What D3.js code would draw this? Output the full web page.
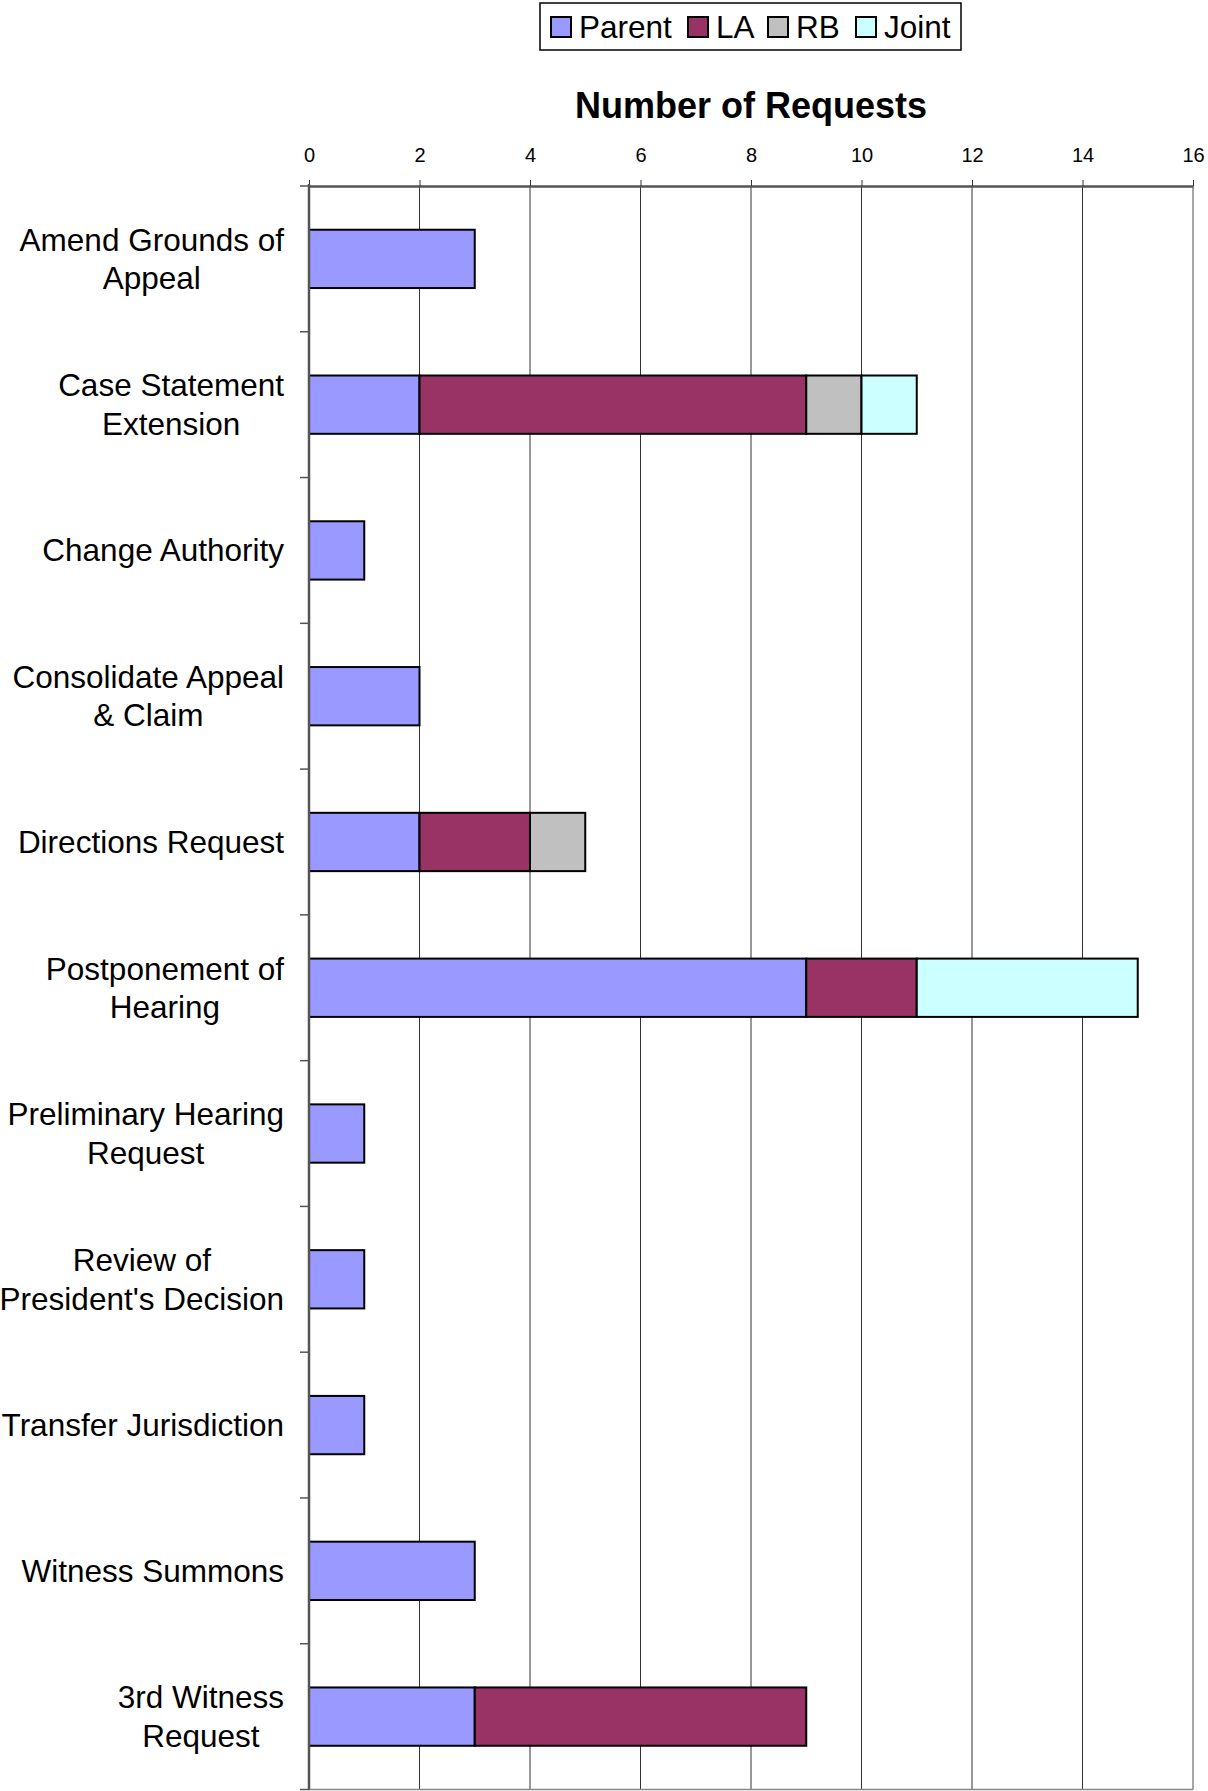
<!DOCTYPE html>
<html>
<head>
<meta charset="utf-8">
<script src="https://cdn.jsdelivr.net/npm/d3@7"></script>
<style>
  body { margin: 0; background: #fff; }
  svg { display: block; font-family: "Liberation Sans", Arial, sans-serif; }
</style>
</head>
<body>
<div id="chart"></div>
<script>
const categories = [
  ["Amend Grounds of", "Appeal"],
  ["Case Statement", "Extension"],
  ["Change Authority"],
  ["Consolidate Appeal", "& Claim"],
  ["Directions Request"],
  ["Postponement of", "Hearing"],
  ["Preliminary Hearing", "Request"],
  ["Review of", "President's Decision"],
  ["Transfer Jurisdiction"],
  ["Witness Summons"],
  ["3rd Witness", "Request"]
];
const seriesNames = ["Parent", "LA", "RB", "Joint"];
const parent = [3, 2, 1, 2, 2, 9, 1, 1, 1, 3, 3];
const la     = [0, 7, 0, 0, 2, 2, 0, 0, 0, 0, 6];
const rb     = [0, 1, 0, 0, 1, 0, 0, 0, 0, 0, 0];
const joint  = [0, 1, 0, 0, 0, 4, 0, 0, 0, 0, 0];
const colors = ["#9999FF", "#993366", "#C0C0C0", "#CCFFFF"];
const xTicks = [0, 2, 4, 6, 8, 10, 12, 14, 16];

const width = 1208, height = 1791;
const margin = {top: 186, right: 15, bottom: 1.5, left: 309};
const plotW = width - margin.left - margin.right;
const plotH = height - margin.top - margin.bottom;

const svg = d3.select("#chart").append("svg")
  .attr("width", width)
  .attr("height", height);

const rows = categories.map((c, i) => ({
  key: i, Parent: parent[i], LA: la[i], RB: rb[i], Joint: joint[i]
}));

const x = d3.scaleLinear().domain([0, 16]).range([0, plotW]);
const y = d3.scaleBand().domain(d3.range(categories.length)).range([0, plotH]).paddingInner(0.6).paddingOuter(0.3);
const color = d3.scaleOrdinal().domain(seriesNames).range(colors);

const g = svg.append("g").attr("transform", `translate(${margin.left},${margin.top})`);

// vertical gridlines
g.selectAll(".grid").data(xTicks.slice(1)).join("line")
  .attr("x1", d => x(d)).attr("x2", d => x(d))
  .attr("y1", 0).attr("y2", plotH)
  .attr("stroke", d => d === 16 ? "#888" : "#333").attr("stroke-width", d => d === 16 ? 1.5 : 1);

// bottom edge of plot area
g.append("line").attr("x1", 0).attr("x2", plotW).attr("y1", plotH).attr("y2", plotH)
  .attr("stroke", "#888").attr("stroke-width", 1.5);

// top axis
g.append("g")
  .call(d3.axisTop(x).tickValues(xTicks).tickSize(6).tickSizeOuter(0).tickPadding(18))
  .call(a => a.select(".domain").attr("stroke", "#555").attr("stroke-width", 2.5))
  .call(a => a.selectAll(".tick line").attr("stroke", "#333"))
  .call(a => a.selectAll(".tick text").attr("font-size", 20).attr("fill", "#000")
    .attr("font-family", "Liberation Sans, Arial, sans-serif"));

// stacked bars
const stacked = d3.stack().keys(seriesNames)(rows);
g.selectAll(".series").data(stacked).join("g")
  .attr("fill", d => color(d.key))
  .selectAll("rect").data(d => d.filter(p => p[1] > p[0])).join("rect")
    .attr("x", d => x(d[0]))
    .attr("width", d => x(d[1]) - x(d[0]))
    .attr("y", d => y(d.data.key))
    .attr("height", y.bandwidth())
    .attr("stroke", "#000").attr("stroke-width", 2);

// left axis with ticks at band boundaries
const step = y.step();
g.append("line").attr("x1", 0).attr("x2", 0).attr("y1", -2).attr("y2", plotH)
  .attr("stroke", "#555").attr("stroke-width", 2.5);
g.selectAll(".ytick").data(d3.range(categories.length + 1)).join("line")
  .attr("x1", -9).attr("x2", 0)
  .attr("y1", d => d * step).attr("y2", d => d * step)
  .attr("stroke", "#555").attr("stroke-width", 1.5);

// category labels
const lineH = 38.5;
categories.forEach((lines, i) => {
  const cy = y(i) + y.bandwidth() / 2;
  const t = g.append("text").attr("font-size", 31.5).attr("fill", "#000").attr("text-anchor", "middle");
  const spans = lines.map((ln, j) => t.append("tspan")
    .attr("y", cy + (j - (lines.length - 1) / 2) * lineH)
    .attr("dy", "0.35em")
    .text(ln));
  const maxW = d3.max(spans, s => s.node().getComputedTextLength());
  spans.forEach(s => s.attr("x", -25 - maxW / 2));
});

// title
svg.append("text")
  .attr("x", 751).attr("y", 118)
  .attr("text-anchor", "middle")
  .attr("font-size", 36).attr("font-weight", "bold")
  .text("Number of Requests");

// legend
const legend = svg.append("g");
legend.append("rect").attr("x", 540).attr("y", 3).attr("width", 421).attr("height", 47)
  .attr("fill", "#fff").attr("stroke", "#000").attr("stroke-width", 1.5);
const legendX = [551, 688, 768, 856];
seriesNames.forEach((s, i) => {
  legend.append("rect").attr("x", legendX[i]).attr("y", 17).attr("width", 20).attr("height", 20)
    .attr("fill", color(s)).attr("stroke", "#000").attr("stroke-width", 2);
  legend.append("text").attr("x", legendX[i] + 28).attr("y", 27).attr("dy", "0.35em")
    .attr("font-size", 31.5).text(s);
});
</script>
</body>
</html>
